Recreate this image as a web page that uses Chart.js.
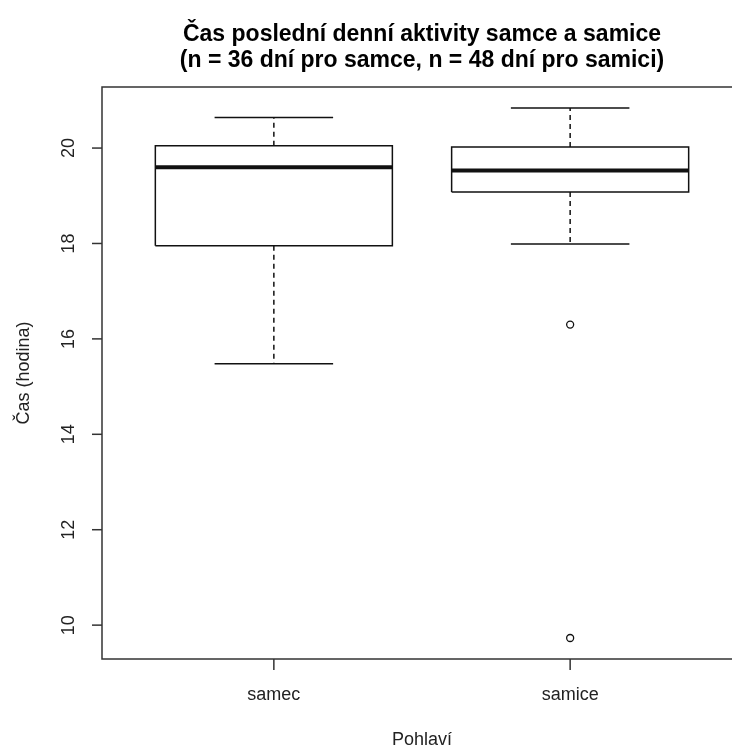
<!DOCTYPE html>
<html>
<head>
<meta charset="utf-8">
<script src="https://cdn.jsdelivr.net/npm/chart.js@4.4.0/dist/chart.umd.min.js"></script>
<style>
html, body { margin: 0; padding: 0; background: #fff; overflow: hidden; }
#wrap { width: 752px; height: 748px; }
</style>
</head>
<body>
<div id="wrap"><canvas id="boxChart" width="752" height="748"></canvas></div>
<script>
var categories = ['samec', 'samice'];
var whiskerLow = [15.48, 17.99];
var q1 = [17.95, 19.08];
var median = [19.60, 19.53];
var q3 = [20.05, 20.02];
var whiskerHigh = [20.64, 20.84];
var outliers = [[], [16.30, 9.73]];
var yTicks = [10, 12, 14, 16, 18, 20];

var titleLines = ['Čas poslední denní aktivity samce a samice',
                  '(n = 36 dní pro samce, n = 48 dní pro samici)'];
var yTitle = 'Čas (hodina)';
var xTitle = 'Pohlaví';

var boxHalf = 0.4, capHalf = 0.2;
var ink = '#111';
var font = '"Liberation Sans", Arial, sans-serif';

function seg(x1, y1, x2, y2, extra) {
  var d = {
    data: [{x: x1, y: y1}, {x: x2, y: y2}],
    showLine: true, borderColor: ink, borderWidth: 1.5,
    pointRadius: 0, borderCapStyle: 'butt'
  };
  for (var k in extra) d[k] = extra[k];
  return d;
}

var datasets = [];
categories.forEach(function(c, i) {
  var x = i + 1;
  // whiskers (dashed) + caps
  datasets.push(seg(x, q3[i], x, whiskerHigh[i], {borderDash: [5, 4]}));
  datasets.push(seg(x, q1[i], x, whiskerLow[i], {borderDash: [5, 4]}));
  datasets.push(seg(x - capHalf, whiskerHigh[i], x + capHalf, whiskerHigh[i]));
  datasets.push(seg(x - capHalf, whiskerLow[i], x + capHalf, whiskerLow[i]));
  // box
  datasets.push({
    data: [{x: x - boxHalf, y: q1[i]}, {x: x + boxHalf, y: q1[i]}, {x: x + boxHalf, y: q3[i]},
           {x: x - boxHalf, y: q3[i]}, {x: x - boxHalf, y: q1[i]}],
    showLine: true, borderColor: ink, borderWidth: 1.5, pointRadius: 0,
    borderJoinStyle: 'miter', backgroundColor: '#fff', fill: false
  });
  // median
  datasets.push(seg(x - boxHalf, median[i], x + boxHalf, median[i], {borderWidth: 4}));
  // outliers
  datasets.push({
    data: outliers[i].map(function(v) { return {x: x, y: v}; }),
    showLine: false, pointRadius: 3.5, pointBorderWidth: 1.3,
    pointBorderColor: ink, pointBackgroundColor: '#fff'
  });
});

var rAxes = {
  id: 'rAxes',
  afterDraw: function(chart) {
    var ctx = chart.ctx, a = chart.chartArea;
    var xs = chart.scales.x, ys = chart.scales.y;
    ctx.save();
    ctx.strokeStyle = '#333';
    ctx.lineWidth = 1.5;
    ctx.strokeRect(a.left, a.top, a.right - a.left, a.bottom - a.top);

    ctx.fillStyle = '#222';
    ctx.font = '18px ' + font;
    ctx.textAlign = 'center';
    ctx.textBaseline = 'middle';
    yTicks.forEach(function(t) {
      var py = ys.getPixelForValue(t);
      ctx.beginPath();
      ctx.moveTo(a.left - 10, py);
      ctx.lineTo(a.left, py);
      ctx.stroke();
      ctx.save();
      ctx.translate(69, py);
      ctx.rotate(-Math.PI / 2);
      ctx.fillText(String(t), 0, 0);
      ctx.restore();
    });
    categories.forEach(function(c, i) {
      var px = xs.getPixelForValue(i + 1);
      ctx.beginPath();
      ctx.moveTo(px, a.bottom);
      ctx.lineTo(px, a.bottom + 11);
      ctx.stroke();
      ctx.fillText(c, px, 695);
    });

    var cx = (a.left + a.right) / 2;
    ctx.fillText(xTitle, cx, 740);
    ctx.save();
    ctx.translate(24, (a.top + a.bottom) / 2);
    ctx.rotate(-Math.PI / 2);
    ctx.fillText(yTitle, 0, 0);
    ctx.restore();

    ctx.fillStyle = '#000';
    ctx.font = 'bold 23px ' + font;
    ctx.fillText(titleLines[0], cx, 35);
    ctx.fillText(titleLines[1], cx, 61);
    ctx.restore();
  }
};

new Chart(document.getElementById('boxChart'), {
  type: 'scatter',
  data: { datasets: datasets },
  plugins: [rAxes],
  options: {
    responsive: false,
    animation: false,
    layout: { padding: { left: 102, top: 87, bottom: 89, right: 10 } },
    plugins: { legend: { display: false }, tooltip: { enabled: false }, title: { display: false } },
    scales: {
      x: { type: 'linear', min: 0.42, max: 2.58, display: false },
      y: { type: 'linear', min: 9.29, max: 21.28, display: false }
    }
  }
});
</script>
</body>
</html>
